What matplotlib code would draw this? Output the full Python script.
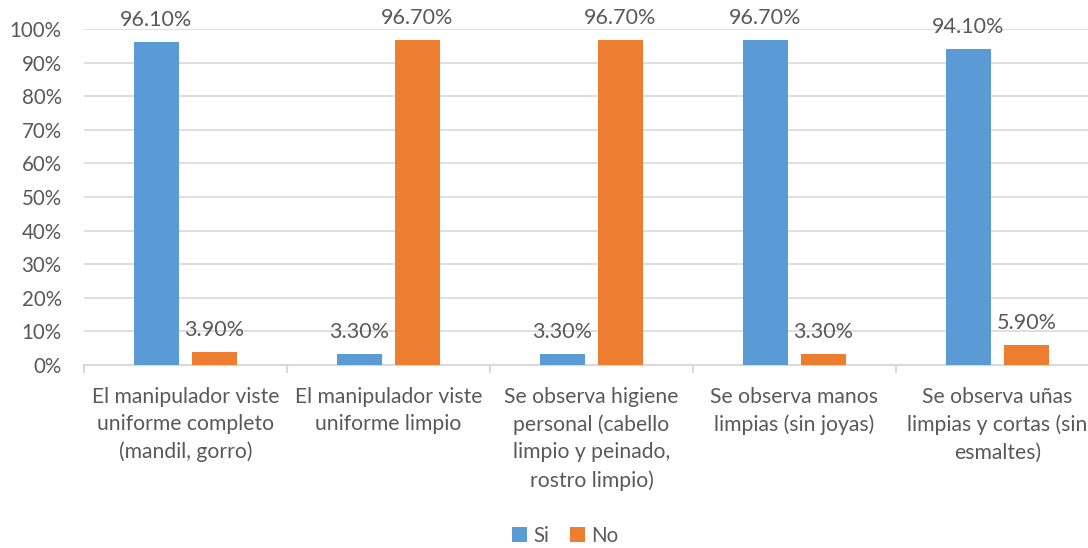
import numpy as np
import matplotlib
matplotlib.use('Agg')
import matplotlib.pyplot as plt
from matplotlib.ticker import PercentFormatter

plt.rcParams['font.family'] = ['Lato', 'DejaVu Sans']

categories = [
    'El manipulador viste\nuniforme completo\n(mandil, gorro)',
    'El manipulador viste\nuniforme limpio',
    'Se observa higiene\npersonal (cabello\nlimpio y peinado,\nrostro limpio)',
    'Se observa manos\nlimpias (sin joyas)',
    'Se observa uñas\nlimpias y cortas (sin\nesmaltes)',
]
si = [96.1, 3.3, 3.3, 96.7, 94.1]
no = [3.9, 96.7, 96.7, 3.3, 5.9]

text_color = '#595959'
grid_color = '#D9D9D9'

fig = plt.figure(figsize=(10.88, 5.48), dpi=100)
# plot area runs past the right edge of the figure, as in the original
ax = fig.add_axes([84 / 1088, 183 / 548, 1015 / 1088, 336 / 548])

x = np.arange(len(categories))
w = 0.222
off = 0.143
b1 = ax.bar(x - off, si, w, color='#5B9BD5', label='Si', zorder=3)
b2 = ax.bar(x + off, no, w, color='#ED7D31', label='No', zorder=3)

for bars, vals in [(b1, si), (b2, no)]:
    for rect, v in zip(bars, vals):
        ax.annotate(f'{v:.2f}%', (rect.get_x() + rect.get_width() / 2, v),
                    xytext=(0, 16), textcoords='offset points',
                    ha='center', va='center', fontsize=15.5, color=text_color)

ax.set_xlim(-0.5, len(categories) - 0.5)
ax.set_ylim(0, 100)
ax.set_yticks(np.arange(0, 101, 10))
ax.yaxis.set_major_formatter(PercentFormatter(decimals=0))
ax.yaxis.grid(True, color=grid_color, linewidth=1.2, zorder=0)
ax.tick_params(axis='y', length=0, labelsize=14.8, labelcolor=text_color, pad=16)

ax.set_xticks(x)
ax.set_xticklabels(categories, fontsize=15.2, color=text_color, linespacing=1.45)
ax.set_xticks(np.arange(-0.5, len(categories)), minor=True)
ax.tick_params(axis='x', which='major', length=0, pad=16)
ax.tick_params(axis='x', which='minor', length=6, color=grid_color, width=1.5)

for s in ['top', 'right', 'left']:
    ax.spines[s].set_visible(False)
ax.spines['bottom'].set_color(grid_color)
ax.spines['bottom'].set_linewidth(1.5)

fig.legend(handles=[b1, b2], labels=['Si', 'No'], loc='center',
           bbox_to_anchor=(565 / 1088, 1 - 536 / 548), ncol=2, frameon=False,
           fontsize=14.8, labelcolor=text_color, handlelength=0.75,
           handleheight=0.75, handletextpad=0.3, columnspacing=1.0)

fig.savefig('out.png', dpi=100)
